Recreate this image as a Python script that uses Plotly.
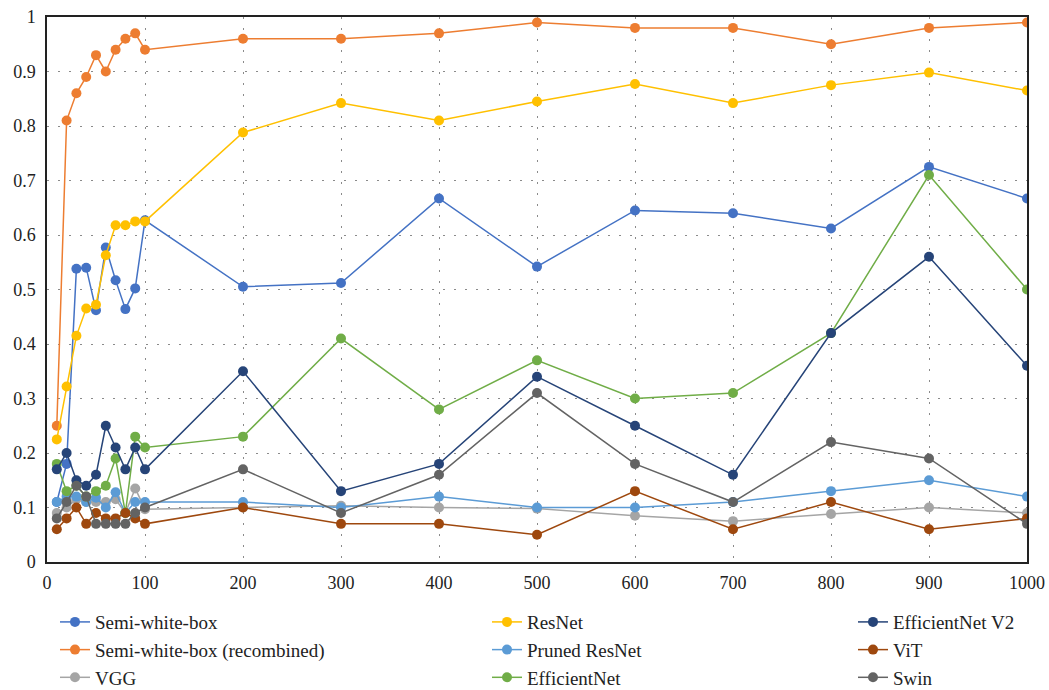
import plotly.graph_objects as go

# Sample counts on the x axis
x_vals = [10, 20, 30, 40, 50, 60, 70, 80, 90, 100,
          200, 300, 400, 500, 600, 700, 800, 900, 1000]

semi_white_box = [0.11, 0.18, 0.538, 0.54, 0.462, 0.577, 0.517, 0.464, 0.502, 0.627,
                  0.505, 0.512, 0.667, 0.542, 0.645, 0.64, 0.612, 0.725, 0.667]
semi_white_box_recombined = [0.25, 0.81, 0.86, 0.89, 0.93, 0.90, 0.94, 0.96, 0.97, 0.94,
                             0.96, 0.96, 0.97, 0.99, 0.98, 0.98, 0.95, 0.98, 0.99]
vgg = [0.09, 0.10, 0.115, 0.11, 0.11, 0.11, 0.115, 0.09, 0.135, 0.097,
       0.10, 0.103, 0.10, 0.098, 0.085, 0.075, 0.088, 0.10, 0.09]
resnet = [0.225, 0.322, 0.415, 0.465, 0.472, 0.563, 0.618, 0.618, 0.625, 0.625,
          0.788, 0.842, 0.81, 0.845, 0.877, 0.842, 0.875, 0.898, 0.865]
pruned_resnet = [0.11, 0.12, 0.12, 0.11, 0.118, 0.10, 0.128, 0.09, 0.11, 0.11,
                 0.11, 0.10, 0.12, 0.10, 0.10, 0.11, 0.13, 0.15, 0.12]
efficientnet = [0.18, 0.13, 0.14, 0.12, 0.13, 0.14, 0.19, 0.09, 0.23, 0.21,
                0.23, 0.41, 0.28, 0.37, 0.30, 0.31, 0.42, 0.71, 0.50]
efficientnet_v2 = [0.17, 0.20, 0.15, 0.14, 0.16, 0.25, 0.21, 0.17, 0.21, 0.17,
                   0.35, 0.13, 0.18, 0.34, 0.25, 0.16, 0.42, 0.56, 0.36]
vit = [0.06, 0.08, 0.10, 0.07, 0.09, 0.08, 0.08, 0.09, 0.08, 0.07,
       0.10, 0.07, 0.07, 0.05, 0.13, 0.06, 0.11, 0.06, 0.08]
swin = [0.08, 0.11, 0.14, 0.12, 0.07, 0.07, 0.07, 0.07, 0.09, 0.10,
        0.17, 0.09, 0.16, 0.31, 0.18, 0.11, 0.22, 0.19, 0.07]

series = [
    ("Semi-white-box", semi_white_box, "#4472C4", "legend"),
    ("Semi-white-box (recombined)", semi_white_box_recombined, "#ED7D31", "legend"),
    ("VGG", vgg, "#A5A5A5", "legend"),
    ("ResNet", resnet, "#FFC000", "legend2"),
    ("Pruned ResNet", pruned_resnet, "#5B9BD5", "legend2"),
    ("EfficientNet", efficientnet, "#70AD47", "legend2"),
    ("EfficientNet V2", efficientnet_v2, "#264478", "legend3"),
    ("ViT", vit, "#9E480E", "legend3"),
    ("Swin", swin, "#636363", "legend3"),
]

FONT = "Liberation Serif, Times New Roman, serif"

fig = go.Figure()
for name, values, color, legend_id in series:
    fig.add_trace(go.Scatter(
        x=x_vals, y=values, name=name, mode="lines+markers",
        line=dict(color=color, width=1.5),
        marker=dict(color=color, size=10),
        legend=legend_id,
    ))

legend_style = dict(
    orientation="v", yanchor="top", xanchor="left",
    xref="container", yref="container", y=0.126,
    font=dict(family=FONT, size=19, color="#222222"),
    bgcolor="rgba(0,0,0,0)", tracegroupgap=0,
)

fig.update_layout(
    width=1049, height=690,
    margin=dict(l=47, r=22, t=17, b=128, autoexpand=False),
    paper_bgcolor="white", plot_bgcolor="white",
    font=dict(family=FONT, size=18, color="#222222"),
    showlegend=True,
    legend=dict(x=55 / 1049, **legend_style),
    legend2=dict(x=487 / 1049, **legend_style),
    legend3=dict(x=853 / 1049, **legend_style),
    xaxis=dict(
        range=[0, 1000], tickmode="linear", tick0=0, dtick=100,
        showgrid=True, gridcolor="#8a8a8a", gridwidth=1, griddash="2px,9px",
        showline=True, linecolor="#222222", linewidth=1.5, mirror=True,
        ticks="", zeroline=False, ticklabelstandoff=4,
        tickfont=dict(family=FONT, size=18, color="#222222"),
    ),
    yaxis=dict(
        range=[0, 1], tickmode="linear", tick0=0, dtick=0.1,
        showgrid=True, gridcolor="#8a8a8a", gridwidth=1, griddash="2px,9px",
        showline=True, linecolor="#222222", linewidth=1.5, mirror=True,
        ticks="", zeroline=False, ticklabelstandoff=6,
        tickfont=dict(family=FONT, size=18, color="#222222"),
    ),
)

fig.write_html("out.html")
